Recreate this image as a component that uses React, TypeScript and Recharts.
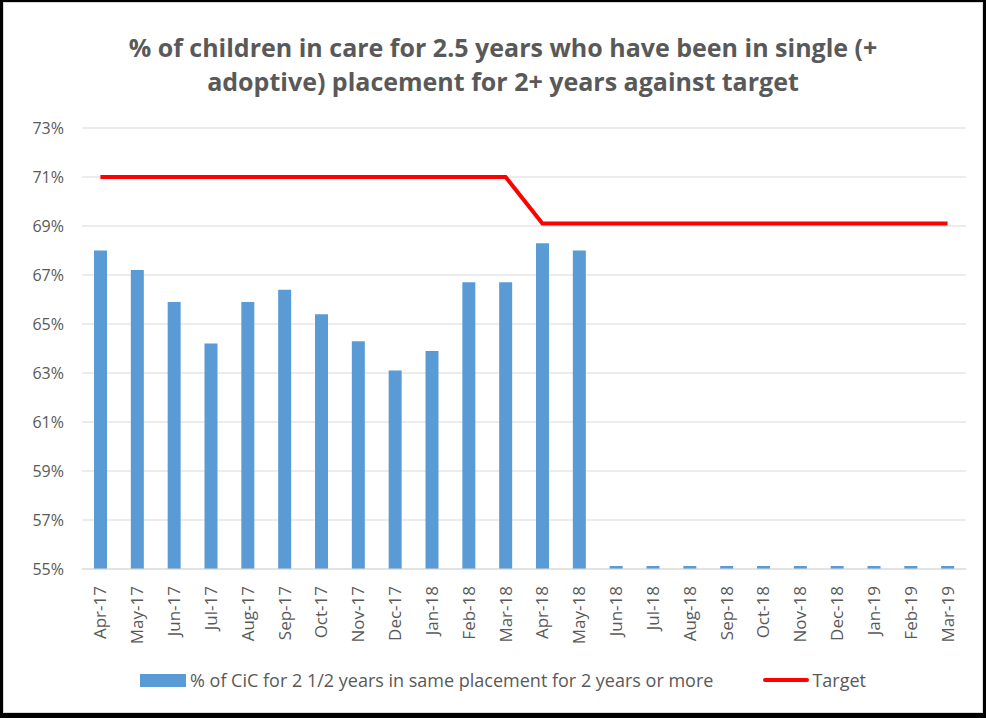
import React from 'react';
import { ComposedChart, Bar, Line, XAxis, YAxis, CartesianGrid } from 'recharts';

const months = [
  'Apr-17', 'May-17', 'Jun-17', 'Jul-17', 'Aug-17', 'Sep-17', 'Oct-17', 'Nov-17',
  'Dec-17', 'Jan-18', 'Feb-18', 'Mar-18', 'Apr-18', 'May-18', 'Jun-18', 'Jul-18',
  'Aug-18', 'Sep-18', 'Oct-18', 'Nov-18', 'Dec-18', 'Jan-19', 'Feb-19', 'Mar-19',
];

// % of CiC for 2 1/2 years in same placement for 2 years or more
const placement = [
  68.0, 67.2, 65.9, 64.2, 65.9, 66.4, 65.4, 64.3, 63.1, 63.9, 66.7, 66.7, 68.3, 68.0,
  55, 55, 55, 55, 55, 55, 55, 55, 55, 55,
];

const target = [
  71, 71, 71, 71, 71, 71, 71, 71, 71, 71, 71, 71, 69.1, 69.1,
  69.1, 69.1, 69.1, 69.1, 69.1, 69.1, 69.1, 69.1, 69.1, 69.1,
];

const yTicks = [55, 57, 59, 61, 63, 65, 67, 69, 71, 73];

const data = months.map((m, i) => ({ month: m, placement: placement[i], target: target[i] }));

const FONT = '"Open Sans", sans-serif';
const GREY = '#595959';

const MonthTick = (props: any) => {
  const { x, y, payload } = props;
  return (
    <text
      x={x}
      y={y + 9}
      dy="0.35em"
      transform={`rotate(-90, ${x}, ${y + 9})`}
      textAnchor="end"
      fill={GREY}
      fontSize={17}
      fontFamily={FONT}
    >
      {payload.value}
    </text>
  );
};

export default function App() {
  return (
    <div style={{ position: 'relative', width: 986, height: 718, boxSizing: 'border-box', borderStyle: 'solid', borderColor: '#000', borderWidth: '2px 3px 5px 3px', background: '#fff' }}>
      <style>{'body{margin:0}'}</style>
      <div style={{ position: 'absolute', inset: 0, border: '1px solid #d9d9d9' }} />
      <div style={{ position: 'absolute', left: 0, top: 28, width: 1000, textAlign: 'center', fontFamily: FONT, fontWeight: 700, fontSize: 25, lineHeight: '34px', color: GREY }}>
        % of children in care for 2.5 years who have been in single (+
        <br />
        adoptive) placement for 2+ years against target
      </div>
      <div style={{ position: 'absolute', left: -3, top: -2 }}>
        <ComposedChart
          width={986}
          height={718}
          data={data}
          barCategoryGap={0}
          margin={{ top: 128, right: 20, left: 0, bottom: 49 }}
        >
          <CartesianGrid vertical={false} stroke="#d9d9d9" />
          <XAxis
            dataKey="month"
            interval={0}
            height={100}
            tickLine={false}
            axisLine={{ stroke: '#d9d9d9' }}
            tick={<MonthTick />}
          />
          <YAxis
            domain={[55, 73]}
            ticks={yTicks}
            width={82}
            axisLine={false}
            tickLine={false}
            tickSize={0}
            tickMargin={18}
            tickFormatter={(v: number) => `${v}%`}
            tick={{ fill: GREY, fontSize: 16, fontFamily: FONT }}
          />
          <Bar dataKey="placement" fill="#5b9bd5" barSize={13} minPointSize={3} isAnimationActive={false} />
          <Line dataKey="target" stroke="#ff0000" strokeWidth={4} dot={false} activeDot={false} isAnimationActive={false} type="linear" />
        </ComposedChart>
      </div>
      <div style={{ position: 'absolute', top: 666, left: 0, width: 980, display: 'flex', alignItems: 'center', fontFamily: FONT, fontSize: 18, color: GREY }}>
        <div style={{ width: 46, height: 13, background: '#5b9bd5', marginLeft: 137, marginRight: 4 }} />
        <span>% of CiC for 2 1/2 years in same placement for 2 years or more</span>
        <div style={{ width: 46, height: 4, background: '#ff0000', borderRadius: 2, marginLeft: 50, marginRight: 3 }} />
        <span>Target</span>
      </div>
    </div>
  );
}
